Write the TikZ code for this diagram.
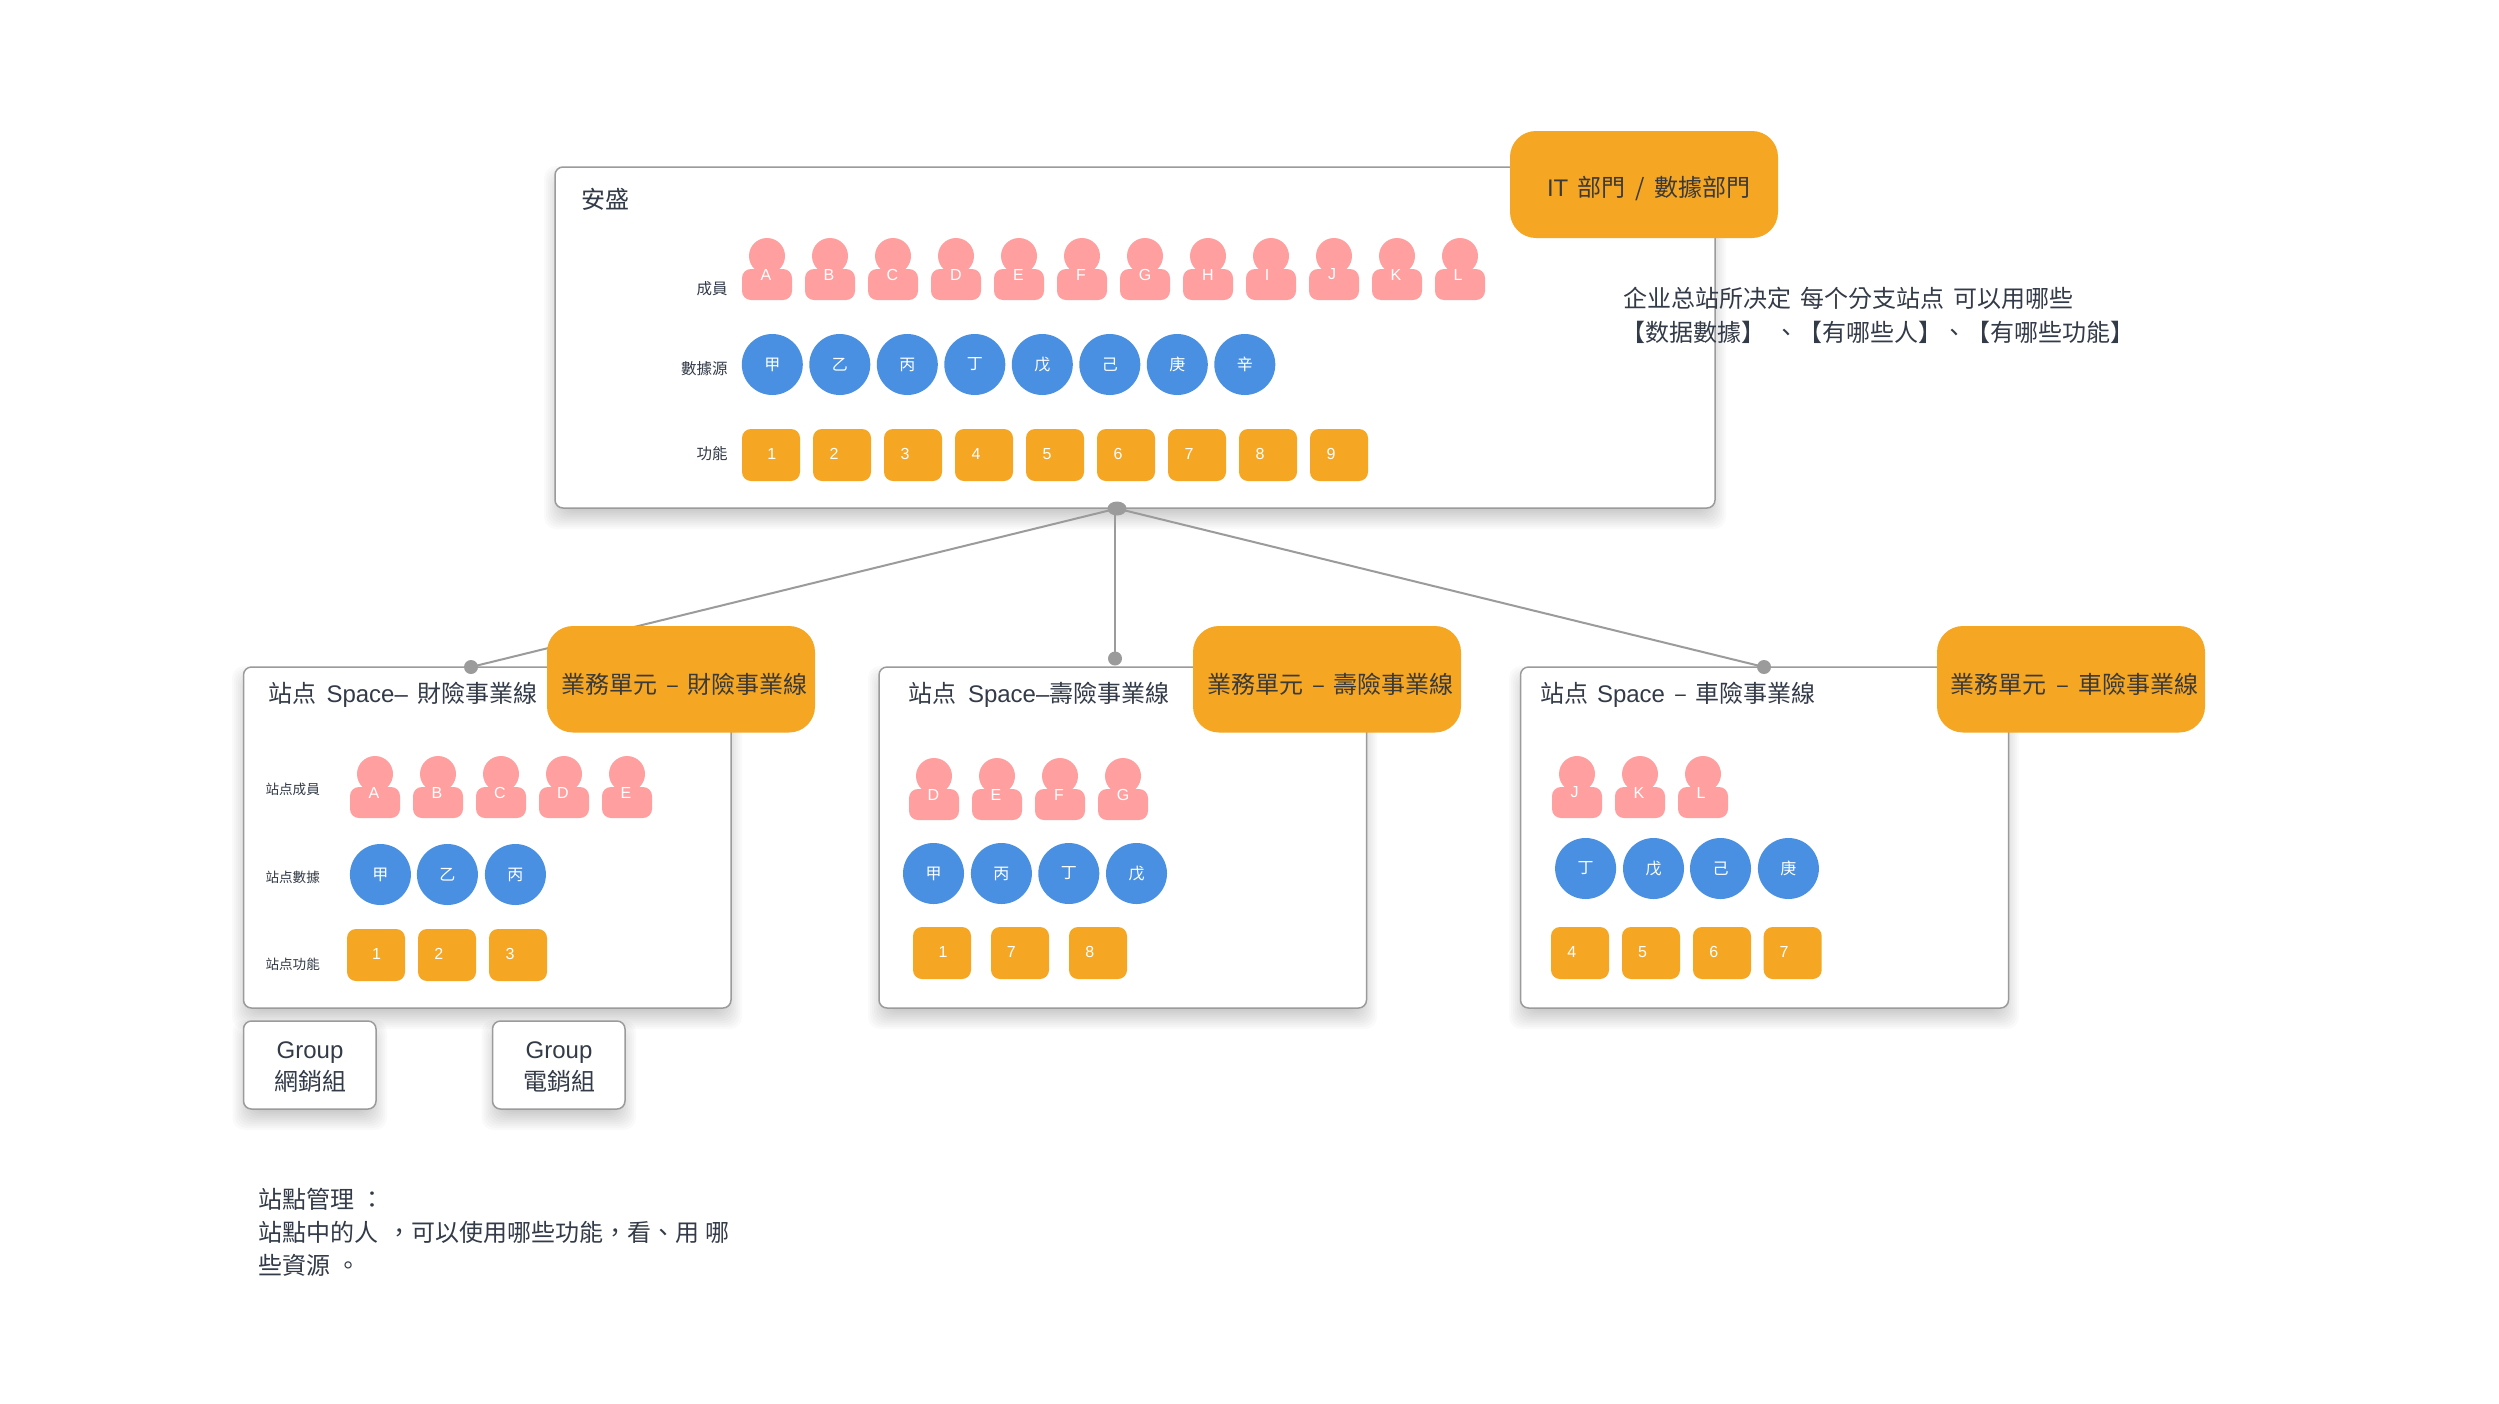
\documentclass[tikz,border=0pt]{standalone}
\usepackage{fontspec}
\usetikzlibrary{shapes.geometric}
\setmainfont{Noto Sans CJK TC}
\newfontfamily\latinface{Liberation Sans}
\newcommand\lat[1]{{\latinface #1}}
\newcommand\fs[1]{\fontsize{#1}{#1}\selectfont}
\newcommand\gap[1]{\hspace{#1pt}}
\definecolor{cpink}{HTML}{FF9F9F}
\definecolor{cblue}{HTML}{4A90E2}
\definecolor{corange}{HTML}{F5A623}
\definecolor{cline}{HTML}{9B9B9B}
\definecolor{cink}{HTML}{333B48}
\definecolor{ctag}{HTML}{3A3A3A}
\tikzset{
  every node/.style={inner sep=0pt,outer sep=0pt},
  panelbox/.style={draw=cline,line width=1.5pt,fill=white,rounded corners=8pt},
  tagbox/.style={fill=corange,rounded corners=26pt},
  funcbox/.style={fill=corange,rounded corners=9pt},
  bodybox/.style={fill=cpink,rounded corners=9pt},
  headdisc/.style={fill=cpink,circle,minimum size=36pt},
  datadisc/.style={fill=cblue,circle,minimum size=61pt,text=white,font=\fs{16}},
  whitelab/.style={text=white,font=\latinface\fs{16}},
  inktext/.style={text=cink,font=\fs{24},anchor=west},
  tagtext/.style={text=ctag,font=\fs{24},anchor=west},
  rowlab/.style={text=cink,font=\fs{15.5},anchor=east},
  sitelab/.style={text=cink,font=\fs{13.6},anchor=west},
  hubdot/.style={fill=cline,circle,minimum size=14pt},
  wire/.style={draw=cline,line width=2pt}
}
% name, x1, y1, x2, y2, style, text
\newcommand\rbox[7]{%
  \pgfmathsetmacro\cxx{((#2)+(#4))/2}\pgfmathsetmacro\cyy{((#3)+(#5))/2}%
  \pgfmathsetmacro\wdd{(#4)-(#2)}\pgfmathsetmacro\htt{(#5)-(#3)}%
  \node[#6,minimum width=\wdd pt,minimum height=\htt pt] (#1) at (\cxx,\cyy) {#7};}
\newcommand\softshadow[4]{%
  \foreach \d in {11,9,7,5,3,1,-1,-3,-5,-7,-9,-11}{%
    \fill[black,opacity=.02,rounded corners=12pt]
      ({#1-\d},{#2+10-\d}) rectangle ({#3+\d},{#4+10+\d});}}
% name, body left, body top, letter, letter x
\newcommand\person[5]{%
  \node[headdisc] (#1h) at ({#2+25},{#3-13}) {};
  \rbox{#1b}{#2}{#3}{#2+50}{#3+31}{bodybox}{}
  \node[whitelab] (#1t) at ({#5},{#3+5.5}) {#4};}
% name, left, top, text, text x, text y
\newcommand\func[6]{%
  \rbox{#1}{#2}{#3}{#2+58}{#3+52}{funcbox}{}
  \node[whitelab] (#1t) at ({#5},{#6}) {#4};}
\begin{document}
\begin{tikzpicture}[x=1pt,y=-1pt]
\useasboundingbox[fill=white] (0,0) rectangle (2499,1403);
% shadows
\softshadow{555}{167}{1715}{508}
\softshadow{243}{667}{731}{1008}
\softshadow{879}{667}{1366}{1008}
\softshadow{1520}{667}{2008}{1008}
% panels
\rbox{main}{555}{167}{1715}{508}{panelbox}{}
\rbox{siteA}{243.5}{667}{731}{1008}{panelbox}{}
\rbox{siteB}{879}{667}{1366.5}{1008}{panelbox}{}
\rbox{siteC}{1520.5}{667}{2008.5}{1008}{panelbox}{}
% connectors
\node[fill=cline,ellipse,minimum width=19pt,minimum height=14pt] (hub) at (1117,508.5) {};
\node[hubdot] (dotL) at (471,667) {};
\node[hubdot] (dotM) at (1115,658.5) {};
\node[hubdot] (dotR) at (1764,667) {};
\draw[wire] (hub.center) -- (dotL.center);
\draw[wire] (dotM |- hub) -- (dotM.center);
\draw[wire] (hub.center) -- (dotR.center);
% tags
\rbox{tagIT}{1510}{131}{1778}{238}{tagbox}{}
\rbox{tagA}{547}{626}{815}{732.5}{tagbox}{}
\rbox{tagB}{1193}{626}{1461}{732.5}{tagbox}{}
\rbox{tagC}{1937}{626}{2205}{732.5}{tagbox}{}
\node[tagtext] (tagITt) at (1547,189) {\lat{IT}\gap{9}部門\gap{10}/\gap{10}數據部門};
\node[tagtext] (tagAt) at (561,684) {業務單元\gap{9}–\gap{9}財險事業線};
\node[tagtext] (tagBt) at (1207,684) {業務單元\gap{9}–\gap{9}壽險事業線};
\node[tagtext] (tagCt) at (1950,684) {業務單元\gap{10}–\gap{10}車險事業線};
% main panel
\node[inktext] (mainT) at (581.5,199) {安盛};
\node[rowlab] (l1) at (727.5,289) {成員};
\node[rowlab] (l2) at (727.5,369) {數據源};
\node[rowlab] (l3) at (727.5,454) {功能};
\foreach \i/\t/\tx in {0/A/766,1/B/829,2/C/892.5,3/D/956,4/E/1018.5,5/F/1081,6/G/1145,7/H/1208,8/I/1267,9/J/1332,10/K/1396,11/L/1458}{
  \person{m\t}{742+63*\i}{269}{\t}{\tx}
}
\foreach \i/\t in {0/甲,1/乙,2/丙,3/丁,4/戊,5/己,6/庚,7/辛}{
  \node[datadisc] (md\i) at ({772.3+67.5*\i},364.5) {\t};
}
\func{mf1}{742}{429}{1}{771.7}{454}
\foreach \i in {2,...,9}{
  \func{mf\i}{742+71*(\i-1)}{429}{\i}{763+71*(\i-1)}{454}
}
% site A
\node[inktext] (sAT) at (268.5,695) {站点\gap{10}\lat{Space–}\gap{10}財險事業線};
\node[sitelab] (sA1) at (265.5,789) {站点成員};
\node[sitelab] (sA2) at (265.5,877) {站点數據};
\node[sitelab] (sA3) at (265.5,964) {站点功能};
\foreach \i/\t in {0/A,1/B,2/C,3/D,4/E}{
  \person{a\t}{350+63*\i}{787}{\t}{374+63*\i}
}
\node[datadisc] (ad1) at (380.4,874.5) {甲};
\node[datadisc] (ad2) at (447.4,874.5) {乙};
\node[datadisc] (ad3) at (515.4,874.5) {丙};
\func{af1}{347}{929}{1}{376.6}{954}
\func{af2}{418}{929}{2}{438.7}{954}
\func{af3}{489}{929}{3}{510}{954}
% groups
\softshadow{243.5}{1021}{376}{1109}
\softshadow{492.5}{1021}{625}{1109}
\rbox{g1}{243.5}{1021}{376}{1109}{panelbox}{}
\rbox{g2}{492.5}{1021}{625}{1109}{panelbox}{}
\node[text=cink,font=\fontsize{24}{32.5}\selectfont,align=center] (g1t) at (310,1067) {\lat{Group}\\網銷組};
\node[text=cink,font=\fontsize{24}{32.5}\selectfont,align=center] (g2t) at (559,1067) {\lat{Group}\\電銷組};
% site B
\node[inktext] (sBT) at (908,694.5) {站点\gap{12}\lat{Space–}壽險事業線};
\foreach \i/\t/\tx in {0/D/933.5,1/E/996,2/F/1059,3/G/1123}{
  \person{b\t}{909+63*\i}{789}{\t}{\tx}
}
\node[datadisc] (bd1) at (933.5,873.5) {甲};
\node[datadisc] (bd2) at (1001.4,873.5) {丙};
\node[datadisc] (bd3) at (1068.8,873.5) {丁};
\node[datadisc] (bd4) at (1136.5,873.5) {戊};
\func{bf1}{913}{927}{1}{943}{952}
\func{bf2}{991}{927}{7}{1011.4}{952}
\func{bf3}{1069}{927}{8}{1089.8}{952}
% site C
\node[inktext] (sCT) at (1540,694.5) {站点\gap{9}\lat{Space}\gap{9}–\gap{9}車險事業線};
\person{cJ}{1552}{787}{J}{1574.5}
\person{cK}{1615}{787}{K}{1639}
\person{cL}{1678}{787}{L}{1701}
\node[datadisc] (cd1) at (1585.6,868.5) {丁};
\node[datadisc] (cd2) at (1653.5,868.5) {戊};
\node[datadisc] (cd3) at (1720.5,868.5) {己};
\node[datadisc] (cd4) at (1788.4,868.5) {庚};
\func{cf1}{1551}{927}{4}{1571.7}{952}
\func{cf2}{1622}{927}{5}{1642.5}{952}
\func{cf3}{1693}{927}{6}{1713.7}{952}
\func{cf4}{1763.7}{927}{7}{1784}{952}
% notes
\node[inktext] (n1) at (1623,298.5) {企业总站所决定\gap{9}每个分支站点\gap{9}可以用哪些};
\node[inktext] (n2) at (1621,332) {【数据數據】\gap{9}、【有哪些人】、【有哪些功能】};
\node[inktext] (n3) at (258,1199.5) {站點管理\gap{7}：};
\node[inktext] (n4) at (258,1232.5) {站點中的人\gap{9}，可以使用哪些功能，看、用\gap{6}哪};
\node[inktext] (n5) at (258,1265.5) {些資源\gap{7}。};
\end{tikzpicture}
\end{document}
